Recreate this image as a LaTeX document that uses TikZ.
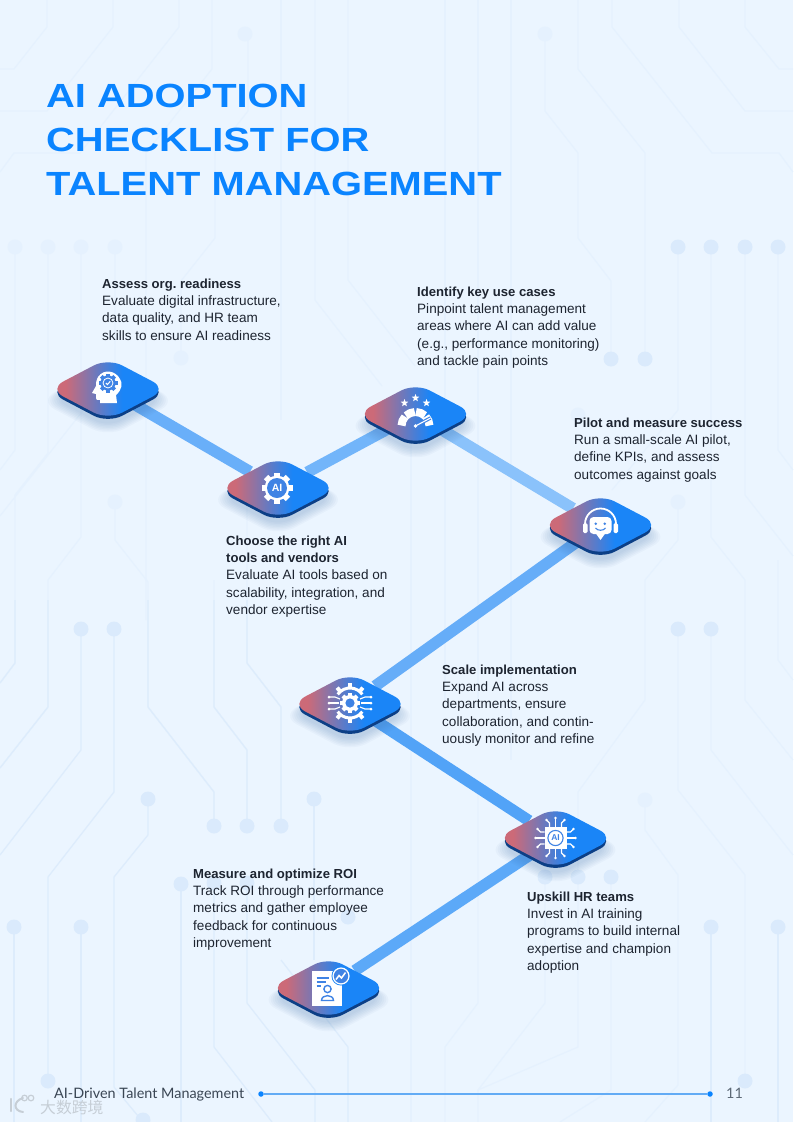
\documentclass[tikz,border=0pt]{standalone}
\usepackage{fontspec}
\usetikzlibrary{arrows.meta,positioning,calc,shapes.geometric,shadows}
\setmainfont{Liberation Sans}
\newfontfamily\titlefont[FakeStretch=1.19]{Liberation Sans}
\newfontfamily\footfont{Lato}
\newfontfamily\cjkmark{Noto Sans CJK SC}
\definecolor{paper}{HTML}{EBF5FF}
\definecolor{traceline}{HTML}{DDECFC}
\definecolor{tracedot}{HTML}{DAEAFC}
\definecolor{headblue}{HTML}{0A84FF}
\definecolor{tilepink}{HTML}{CC6A78}
\definecolor{tileblue}{HTML}{1A85F7}
\definecolor{tileink}{HTML}{3F83E4}
\definecolor{tilerim}{HTML}{0C3F86}
\definecolor{tilehaze}{HTML}{3C6FA8}
\definecolor{wireA}{HTML}{69AFF9}
\definecolor{wireB}{HTML}{72B5FA}
\definecolor{wireC}{HTML}{8AC2FB}
\definecolor{wireD}{HTML}{66ADF8}
\definecolor{wireE}{HTML}{52A3F7}
\definecolor{wireF}{HTML}{5CA9F8}
\definecolor{inkbody}{HTML}{1D2430}
\definecolor{footline}{HTML}{62ABF5}
\definecolor{footink}{HTML}{3A4654}
\definecolor{markgrey}{HTML}{C6CED6}
\pgfdeclarehorizontalshading{tileface}{100bp}{color(0bp)=(tilepink);color(25bp)=(tilepink);color(32bp)=(tilepink);color(56bp)=(tileblue);color(100bp)=(tileblue)}
\pgfdeclarelayer{back}
\pgfdeclarelayer{wires}
\pgfsetlayers{back,wires,main}
\newcommand{\lead}[1]{\rule{0pt}{11pt}{\fontsize{13.1}{17.33}\selectfont\bfseries #1}}
\newcommand{\cogat}[4]{%
 \fill[#4] (#1,#2) circle ({#3*.8});
 \foreach \a in {0,45,...,315}
  \fill[#4,shift={(#1,#2)},rotate=\a] ({-#3*.2},{-#3}) rectangle ({#3*.2},0);
}
\tikzset{
 trace/.style={draw=traceline,line width=1.3pt},
 faint/.style={draw=traceline!40!paper,line width=1.2pt},
 haze/.style={general shadow={fill=tilehaze,fill opacity=.04,draw=none,shadow yshift=-10pt,shadow scale=#1}},
 tile/.style={diamond,minimum width=118pt,minimum height=62pt,inner sep=0pt,outer sep=0pt,draw=none,
  rounded corners=16pt,shade,shading=tileface,
  haze=1.18,haze=1.14,haze=1.1,haze=1.06,haze=1.02,haze=.98,haze=.94,
  general shadow={fill=tilerim,draw=none,shadow yshift=-3.2pt}},
 wire/.style={draw=#1,line width=11.5pt},
 note/.style={anchor=north west,align=left,inner sep=0pt,text=inkbody,
  font=\frenchspacing\fontsize{13.55}{17.33}\selectfont},
 pip/.style={circle,fill=headblue,minimum size=5.5pt,inner sep=0pt},
 circ/.style={draw=white,line width=1.1pt},
}
\begin{document}
\begin{tikzpicture}[x=1pt,y=-1pt]
\useasboundingbox (0,0) rectangle (793,1122);
\begin{pgfonlayer}{back}
\fill[paper] (0,0) rectangle (793,1122);
\draw[faint] (47,0)--(47,27)--(14,69)--(0,69);
\draw[faint] (113,0)--(113,27)--(47,111)--(0,111);
\draw[faint] (179,0)--(179,27)--(80,153)--(14,153)--(0,172);
\draw[faint] (212,0)--(212,69)--(146,153)--(146,620);
\draw[faint] (248,34)--(248,111)--(215,153)--(215,238)--(181,281)--(181,358);
\draw[faint] (281,0)--(281,420);
\draw[faint] (315,0)--(315,300)--(382,386);
\draw[faint] (348,0)--(348,280)--(415,366);
\draw[faint] (445,0)--(445,700);
\draw[faint] (478,0)--(478,700);
\draw[faint] (511,0)--(511,760);
\draw[faint] (578,0)--(578,69)--(645,153)--(645,359);
\draw[faint] (545,34)--(545,111)--(578,153)--(578,238)--(611,281)--(611,359);
\draw[faint] (612,0)--(612,27)--(712,153)--(779,153)--(793,172);
\draw[faint] (679,0)--(679,27)--(745,111)--(793,111);
\draw[faint] (745,0)--(745,27)--(779,69)--(793,69);
\draw[faint] (15,247)--(15,450)--(0,470);
\draw[faint] (48,247)--(48,453)--(15,495)--(15,663)--(0,683);
\draw[faint] (81,247)--(81,537)--(48,580)--(48,707)--(0,768);
\draw[faint] (115,247)--(115,370)--(0,516);
\draw[faint] (115,502)--(115,540)--(148,582)--(148,707)--(214,792)--(214,826);
\draw[faint] (214,580)--(214,707)--(247,750)--(247,826);
\draw[faint] (247,500)--(247,663)--(281,707)--(281,826);
\draw[faint] (678,247)--(678,410)--(612,490);
\draw[faint] (711,247)--(711,537)--(745,580)--(745,700)--(793,760);
\draw[faint] (745,247)--(745,495)--(793,556);
\draw[faint] (778,247)--(778,450)--(793,470);
\draw[faint] (778,560)--(778,660)--(793,680);
\draw[faint] (678,503)--(678,540)--(645,580)--(645,700)--(578,792)--(578,1047)--(478,1090)--(478,1122);
\draw[faint] (678,630)--(678,790)--(745,875)--(745,1081);
\draw[faint] (711,630)--(711,750)--(793,855);
\draw[faint] (645,800)--(645,830)--(678,875)--(678,1085)--(645,1122);
\draw[faint] (411,420)--(411,1122);
\draw[faint] (478,780)--(478,1003)--(445,1047)--(445,1122);
\draw[faint] (545,877)--(545,1003)--(478,1090);
\draw[faint] (611,877)--(611,1090)--(560,1122);
\draw[trace] (15,600)--(15,663)--(0,683);
\draw[trace] (48,600)--(48,707)--(0,768);
\draw[trace] (81,629)--(81,750)--(0,855);
\draw[trace] (114,629)--(114,792)--(48,877)--(48,1081);
\draw[trace] (148,600)--(148,707)--(214,792)--(214,826);
\draw[trace] (214,600)--(214,707)--(247,750)--(247,826);
\draw[trace] (247,600)--(247,663)--(281,707)--(281,826);
\draw[trace] (148,799)--(148,835)--(114,877)--(114,1087)--(143,1122);
\draw[trace] (14,927)--(14,1122);
\draw[trace] (81,927)--(81,1122);
\draw[trace] (181,884)--(181,1122);
\draw[trace] (214,883)--(214,1047)--(272,1122);
\draw[trace] (247,883)--(247,1003)--(315,1090)--(315,1122);
\draw[trace] (281,960)--(348,1047)--(348,1122);
\draw[trace] (314,799)--(314,960);
\draw[trace] (711,927)--(711,1122);
\draw[trace] (778,927)--(778,1122);
\foreach \x/\y in {678/247,711/247,745/247,778/247,611/359,645/359,678/629,711/629,
 81/629,114/629,148/799,214/826,247/826,281/826,314/799,181/884,214/883,247/883,348/917,
 14/927,81/927,48/1081,143/1120,545/877,578/877,611/877,711/927,778/927,745/1081}
 \fill[tracedot] (\x,\y) circle (7.5);
\foreach \x/\y in {245/34,545/34,15/247,48/247,81/247,115/247,115/502,181/358,578/415,678/502,645/800}
 \fill[tracedot!35!paper] (\x,\y) circle (7.5);
\end{pgfonlayer}
%
\node[anchor=base west,inner sep=0pt,text=headblue,font=\fontsize{33.5}{44}\selectfont\titlefont\bfseries] (titleA) at (46,107) {AI ADOPTION};
\node[anchor=base west,inner sep=0pt,text=headblue,font=\fontsize{33.5}{44}\selectfont\titlefont\bfseries] (titleB) at (46,151) {CHECKLIST FOR};
\node[anchor=base west,inner sep=0pt,text=headblue,font=\fontsize{33.5}{44}\selectfont\titlefont\bfseries] (titleC) at (46,195) {TALENT MANAGEMENT};
%
\node[tile] (assess) at (108,389) {};
\node[tile] (choose) at (278,488) {};
\node[tile] (identify) at (415.5,414) {};
\node[tile] (pilot) at (600.5,525) {};
\node[tile] (scale) at (350,704) {};
\node[tile] (upskill) at (555.5,838) {};
\node[tile] (measure) at (328.5,988) {};
\begin{pgfonlayer}{wires}
\draw[wire=wireA] (assess)--(choose);
\draw[wire=wireB] (choose)--(identify);
\draw[wire=wireC] (identify)--(pilot);
\draw[wire=wireD] (pilot)--(scale);
\draw[wire=wireE] (scale)--(upskill);
\draw[wire=wireF] (upskill)--(measure);
\end{pgfonlayer}
%
\node[note] (noteA) at (102,277) {\lead{Assess org. readiness}\\Evaluate digital infrastructure,\\data quality, and HR team\\skills to ensure AI readiness};
\node[note] (noteB) at (417,285) {\lead{Identify key use cases}\\Pinpoint talent management\\areas where AI can add value\\(e.g., performance monitoring)\\and tackle pain points};
\node[note] (noteC) at (574,416) {\lead{Pilot and measure success}\\Run a small-scale AI pilot,\\define KPIs, and assess\\outcomes against goals};
\node[note] (noteD) at (226,534) {\lead{Choose the right AI}\\\lead{tools and vendors}\\Evaluate AI tools based on\\scalability, integration, and\\vendor expertise};
\node[note] (noteE) at (442,663) {\lead{Scale implementation}\\Expand AI across\\departments, ensure\\collaboration, and contin-\\uously monitor and refine};
\node[note] (noteF) at (527,890) {\lead{Upskill HR teams}\\Invest in AI training\\programs to build internal\\expertise and champion\\adoption};
\node[note] (noteG) at (193,867) {\lead{Measure and optimize ROI}\\Track ROI through performance\\metrics and gather employee\\feedback for continuous\\improvement};
%
\begin{scope}[shift={(assess.center)}]
\fill[white] (-8,14)--(9,14)--(8,6) .. controls (14,1) and (15,-6) .. (12,-10) .. controls (8,-18) and (-4,-21) .. (-10,-12)
 .. controls (-12,-8) and (-12,-6) .. (-12,-3)--(-16,4)--(-12,5)--(-12,9) .. controls (-12,11) and (-11,11) .. (-8,11)--cycle;
\cogat{0}{-6}{9.5}{tileink}
\fill[white] (0,-6) circle (5.4);
\fill[tileink] (0,-6) circle (4.4);
\draw[white,line width=1pt] (-2.2,-6)--(-.6,-4.4)--(2.2,-7.6);
\end{scope}
%
\begin{scope}[shift={(choose.center)}]
\cogat{-1}{0}{15.5}{white}
\fill[tileink] (-1,0) circle (10);
\node[text=white,inner sep=0pt,font=\fontsize{10.5}{11}\selectfont\bfseries] (chooseAI) at (-1,0) {AI};
\end{scope}
%
\begin{scope}[shift={(identify.center)}]
\foreach \x/\y/\r in {-11/-11/4,0/-16/4,11/-11/4}
 \fill[white,shift={(\x,\y)}] (-90:\r)--(-54:.42*\r)--(-18:\r)--(18:.42*\r)--(54:\r)--(90:.42*\r)--(126:\r)--(162:.42*\r)--(198:\r)--(234:.42*\r)--cycle;
\foreach \s/\e in {182/222,227/267,272/312,317/358}
 \draw[white,line width=8pt] ({14*cos(\s)},{12+14*sin(\s)}) arc[start angle=\s,end angle=\e,radius=14];
\draw[tileink,line width=3.4pt] (0,12)--(15,4);
\draw[white,line width=1.1pt] (0,12)--(15,4);
\fill[white] (0,12) circle (1.8);
\end{scope}
%
\begin{scope}[shift={(pilot.center)}]
\draw[white,line width=1.8pt] (-15.5,-1) arc[start angle=180,end angle=360,radius=15.5];
\fill[white,rounded corners=1.5pt] (-17.5,-2) rectangle (-13,8);
\fill[white,rounded corners=1.5pt] (13,-2) rectangle (17.5,8);
\fill[white,rounded corners=4pt] (-11,-8) rectangle (11,9);
\fill[white] (-5,8)--(5,8)--(0,15)--cycle;
\fill[tileink] (-4.7,-1.3) circle (1.4);
\fill[tileink] (4.3,-1.3) circle (1.4);
\draw[tileink,line width=1.1pt] (-5,3) .. controls (-3,6) and (3,6) .. (5,3);
\end{scope}
%
\begin{scope}[shift={(scale.center)}]
\cogat{0}{-1}{10}{white}
\fill[tileink] (0,-1) circle (4.6);
\draw[white,line width=3pt] ({-15*cos(35)},{-1-15*sin(35)}) arc[start angle=215,end angle=325,radius=15];
\draw[white,line width=3pt] ({15*cos(35)},{-1+15*sin(35)}) arc[start angle=35,end angle=145,radius=15];
\foreach \a in {-90,-50,-130}
 \fill[white,shift={(0,-1)},rotate=\a] (15,-2) rectangle (20,2);
\foreach \a in {90,50,130}
 \fill[white,shift={(0,-1)},rotate=\a] (15,-2) rectangle (20,2);
\foreach \s in {1,-1}{
 \draw[circ] (\s*11,-1)--(\s*21,-1);
 \draw[circ] (\s*10,-5)--(\s*15,-7)--(\s*21,-7);
 \draw[circ] (\s*10,3)--(\s*15,5)--(\s*21,5);
 \fill[white] (\s*21,-7) circle (1.5);
 \fill[white] (\s*21,-1) circle (1.5);
 \fill[white] (\s*21,5) circle (1.5);
}
\end{scope}
%
\begin{scope}[shift={(upskill.center)}]
\foreach \a in {0,90,180,270}{
 \begin{scope}[rotate=\a]
 \draw[circ] (11,-6)--(15,-6)--(18,-9);
 \draw[circ] (11,0)--(20,0);
 \draw[circ] (11,6)--(15,6)--(18,9);
 \fill[white] (18,-9) circle (1.3);
 \fill[white] (20,0) circle (1.3);
 \fill[white] (18,9) circle (1.3);
 \end{scope}
}
\fill[white] (-11,-11) rectangle (11,11);
\draw[tileink,line width=1.1pt] (0,0) circle (7.6);
\node[text=tileink,inner sep=0pt,font=\fontsize{8.5}{9}\selectfont\bfseries] (upskillAI) at (0,0) {AI};
\end{scope}
%
\begin{scope}[shift={(measure.center)}]
\fill[white] (-16.5,-17) rectangle (13.5,18);
\foreach \y/\w in {-10/12,-6/9,-2/4}
 \draw[tileink,line width=1.3pt] (-12,\y)--(-12+\w,\y);
\draw[tileink,line width=1.4pt] (-1,1) circle (3.6);
\draw[tileink,line width=1.4pt] (-7,12.5)--(5,12.5) .. controls (5,6) and (-7,6) .. (-7,12.5)--cycle;
\fill[tileblue] (12.5,-12) circle (9.5);
\fill[white] (12.5,-12) circle (8.6);
\fill[tileink] (12.5,-12) circle (7.2);
\draw[white,line width=1.5pt] (7.5,-8.5)--(10.5,-12.5)--(13,-10)--(17,-15.5);
\end{scope}
%
\node[pip] (footL) at (261,1094) {};
\node[pip] (footR) at (710,1094) {};
\draw[footline,line width=1.3pt] (footL)--(footR);
\node[anchor=base west,inner sep=0pt,text=footink,font=\fontsize{14.4}{16}\selectfont\footfont] (footer) at (54,1098) {AI-Driven Talent Management};
\node[anchor=base west,inner sep=0pt,text=footink!80!paper,font=\fontsize{14.4}{16}\selectfont\footfont] (folio) at (726,1098) {11};
%
\draw[markgrey,line width=2.2pt,line cap=round] (11,1099)--(11,1111);
\draw[markgrey,line width=2pt,line cap=round] (23,1098) .. controls (13,1101) and (13,1111) .. (23,1112);
\draw[markgrey,line width=1.2pt] (24.5,1098) circle (2.8);
\draw[markgrey,line width=1.2pt] (31,1098) circle (2.8);
\node[anchor=base west,inner sep=0pt,text=markgrey,font=\fontsize{15.8}{16}\selectfont\cjkmark] (mark) at (40,1113.5) {大数跨境};
\end{tikzpicture}
\end{document}
